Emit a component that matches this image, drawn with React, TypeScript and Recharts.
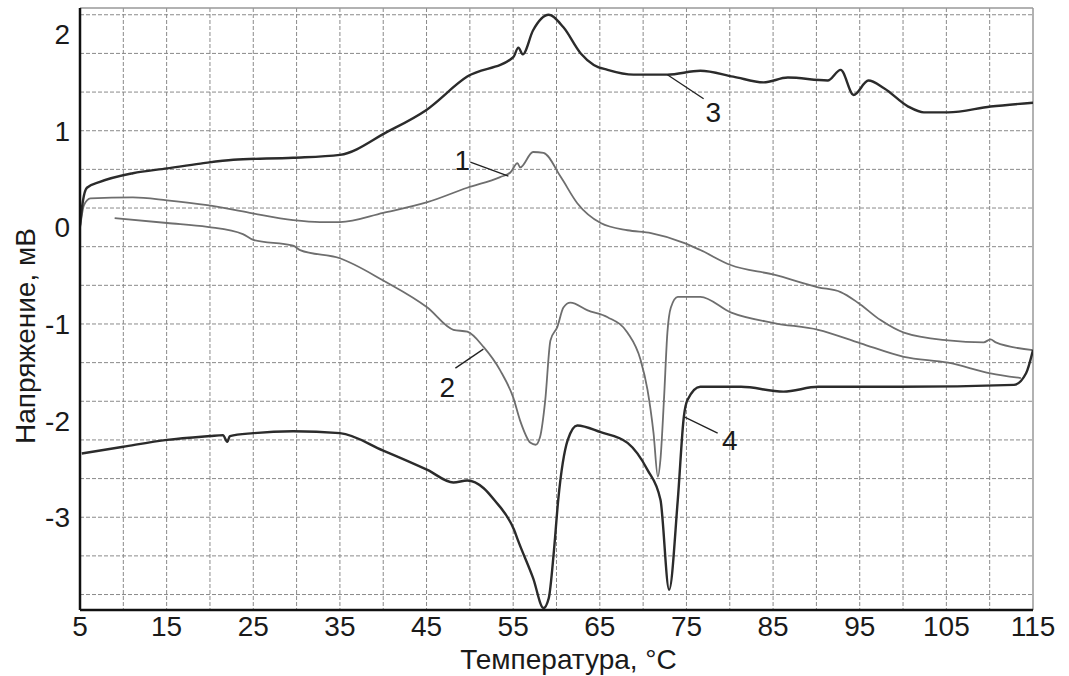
import { LineChart, Line, XAxis, YAxis, CartesianGrid, ReferenceLine, ReferenceDot } from 'recharts';

// [temperature °C, voltage mV]
const curve1: [number, number][] = [
  [5.0, -0.01], [5.46, 0.23], [6.2, 0.3], [11.1, 0.31], [15.05, 0.28], [19.7, 0.23],
  [24.6, 0.15], [29.6, 0.075], [32.7, 0.055], [35.0, 0.055], [40.0, 0.15], [45.1, 0.26],
  [49.7, 0.41], [53.5, 0.52], [54.7, 0.57], [55.5, 0.665], [55.8, 0.62], [57.3, 0.78],
  [58.5, 0.77], [60.5, 0.52], [62.4, 0.25], [65.1, 0.045], [68.2, -0.03], [70.9, -0.06],
  [74.7, -0.16], [76.6, -0.235], [80.1, -0.39], [85.1, -0.49], [90.2, -0.62], [92.8, -0.67],
  [94.8, -0.78], [97.4, -0.96], [100.1, -1.09], [105.2, -1.17], [109.3, -1.19], [110.1, -1.16],
  [110.7, -1.19], [115.0, -1.27],
];

const curve2: [number, number][] = [
  [9.0, 0.096], [15.05, 0.045], [19.7, 0.005], [23.8, -0.07], [25.0, -0.13], [29.6, -0.19],
  [30.4, -0.235], [35.0, -0.32], [40.0, -0.55], [45.1, -0.83], [48.1, -1.06], [49.7, -1.08],
  [51.6, -1.24], [53.5, -1.48], [55.0, -1.76], [55.8, -2.0], [57.0, -2.23], [57.6, -2.25],
  [58.1, -2.17], [58.7, -1.79], [59.3, -1.17], [60.1, -1.03], [60.8, -0.83], [61.6, -0.78],
  [63.6, -0.86], [65.9, -0.93], [68.2, -1.09], [69.7, -1.37], [70.5, -1.68], [71.2, -2.13],
  [71.7, -2.58], [72.0, -2.4], [72.4, -1.79], [72.8, -1.09], [73.2, -0.83], [74.0, -0.72],
  [76.6, -0.72], [80.1, -0.88], [85.1, -0.99], [90.2, -1.06], [95.1, -1.2], [100.1, -1.34],
  [105.2, -1.4], [110.1, -1.51], [113.6, -1.56],
];

const curve3: [number, number][] = [
  [5.0, 0.02], [5.35, 0.28], [5.8, 0.41], [7.3, 0.47], [11.1, 0.56], [15.05, 0.61],
  [18.9, 0.66], [22.7, 0.7], [29.6, 0.72], [35.0, 0.75], [40.5, 0.99], [44.9, 1.21],
  [49.7, 1.56], [55.0, 1.76], [55.6, 1.86], [56.1, 1.79], [57.3, 2.04], [59.1, 2.2],
  [60.8, 2.07], [62.8, 1.8], [64.3, 1.68], [65.9, 1.63], [68.9, 1.58], [72.8, 1.58],
  [76.6, 1.62], [80.4, 1.56], [83.9, 1.5], [86.7, 1.55], [91.3, 1.52], [92.8, 1.63],
  [94.3, 1.37], [96.0, 1.52], [97.8, 1.44], [100.6, 1.25], [102.4, 1.19], [105.2, 1.19],
  [110.1, 1.25], [115.0, 1.29],
];

const curve4: [number, number][] = [
  [5.2, -2.34], [10.0, -2.27], [15.05, -2.2], [20.0, -2.16], [21.5, -2.15], [22.0, -2.22],
  [22.3, -2.16], [25.0, -2.13], [29.6, -2.11], [35.0, -2.13], [40.0, -2.31], [45.1, -2.51],
  [48.1, -2.64], [49.7, -2.62], [51.6, -2.7], [52.8, -2.82], [55.1, -3.13], [55.6, -3.25],
  [57.3, -3.63], [58.5, -3.94], [59.1, -3.84], [59.7, -3.35], [60.2, -2.82], [61.3, -2.2],
  [62.4, -2.05], [65.1, -2.12], [68.2, -2.23], [70.5, -2.51], [72.0, -2.82], [73.0, -3.75],
  [74.0, -2.82], [74.7, -1.96], [75.1, -1.79], [76.6, -1.65], [81.3, -1.65], [86.2, -1.7],
  [90.2, -1.65], [99.7, -1.65], [112.8, -1.63], [114.2, -1.51], [115.0, -1.27],
];

const xTicks = [5, 15, 25, 35, 45, 55, 65, 75, 85, 95, 105, 115];
const yTicks = [-3, -2, -1, 0, 1, 2];

// curve numbers with their leader lines: [label, textT, textV, fromT, fromV, toT, toV]
const callouts: [string, number, number, number, number, number, number][] = [
  ['1', 49.14, 0.7, 50.06, 0.676, 54.45, 0.53],
  ['2', 47.4, -1.65, 48.33, -1.457, 51.56, -1.26],
  ['3', 78.1, 1.19, 72.8, 1.58, 76.98, 1.33],
  ['4', 80.0, -2.2, 74.8, -1.964, 78.6, -2.13],
];

const X_MIN = 5;
const X_MAX = 115;
const Y_MIN = -3.96;
const Y_MAX = 2.27;

const gridX = Array.from({ length: 21 }, (_, i) => 10 + i * 5);
const gridY = Array.from({ length: 31 }, (_, i) => Math.round((-3.8 + i * 0.2) * 10) / 10);

const toRows = (pts: [number, number][]) => pts.map(([t, v]) => ({ t, v }));

const font = '"Liberation Sans", Arial, sans-serif';
const ink = '#1a1a1a';

export default function App() {
  return (
    <div style={{ position: 'absolute', left: 0, top: 0, width: 1069, height: 676, background: '#fff' }}>
      <LineChart width={1069} height={676} margin={{ top: 8, right: 36, bottom: 0, left: 0 }}>
        <CartesianGrid
          horizontalValues={gridY}
          verticalValues={gridX}
          stroke="#8a8a8a"
          strokeDasharray="4 2"
          strokeWidth={1}
        />
        <XAxis
          dataKey="t"
          type="number"
          domain={[X_MIN, X_MAX]}
          ticks={xTicks}
          allowDataOverflow
          height={66}
          tickLine={false}
          axisLine={{ stroke: '#111', strokeWidth: 2.5 }}
          tick={{ fontSize: 28, fill: ink, fontFamily: font }}
          tickMargin={0}
          label={{ value: 'Температура, °С', position: 'insideBottom', offset: 7, dx: 12, fontSize: 28, fill: ink, fontFamily: font }}
        />
        <YAxis
          type="number"
          domain={[Y_MIN, Y_MAX]}
          ticks={yTicks}
          allowDataOverflow
          width={80}
          tickLine={false}
          axisLine={{ stroke: '#111', strokeWidth: 2.5 }}
          tick={{ fontSize: 28, fill: ink, fontFamily: font }}
          tickMargin={4}
          label={{
            value: 'Напряжение, мВ',
            angle: -90,
            position: 'insideLeft',
            offset: 25,
            dy: 27,
            fontSize: 28,
            fill: ink,
            fontFamily: font,
            style: { textAnchor: 'middle' },
          }}
        />
        <ReferenceLine y={Y_MAX} stroke="#999" strokeWidth={1.5} ifOverflow="extendDomain" />
        <ReferenceLine x={X_MAX} stroke="#999" strokeWidth={1.5} />

        <Line data={toRows(curve1)} dataKey="v" type="monotone" stroke="#6e6e6e" strokeWidth={1.8} dot={false} isAnimationActive={false} />
        <Line data={toRows(curve2)} dataKey="v" type="monotone" stroke="#6e6e6e" strokeWidth={1.8} dot={false} isAnimationActive={false} />
        <Line data={toRows(curve3)} dataKey="v" type="monotone" stroke="#2b2b2b" strokeWidth={2.4} dot={false} isAnimationActive={false} />
        <Line data={toRows(curve4)} dataKey="v" type="monotone" stroke="#2b2b2b" strokeWidth={2.4} dot={false} isAnimationActive={false} />

        {callouts.map(([name, tx, ty, x1, y1, x2, y2]) => (
          <ReferenceLine
            key={'l' + name}
            segment={[{ x: x1, y: y1 }, { x: x2, y: y2 }]}
            stroke="#222"
            strokeWidth={1.3}
          />
        ))}
        {callouts.map(([name, tx, ty]) => (
          <ReferenceDot
            key={'d' + name}
            x={tx}
            y={ty}
            r={0}
            fill="none"
            stroke="none"
            label={{ value: name, position: 'center', fontSize: 28, fill: ink, fontFamily: font }}
          />
        ))}
      </LineChart>
    </div>
  );
}
